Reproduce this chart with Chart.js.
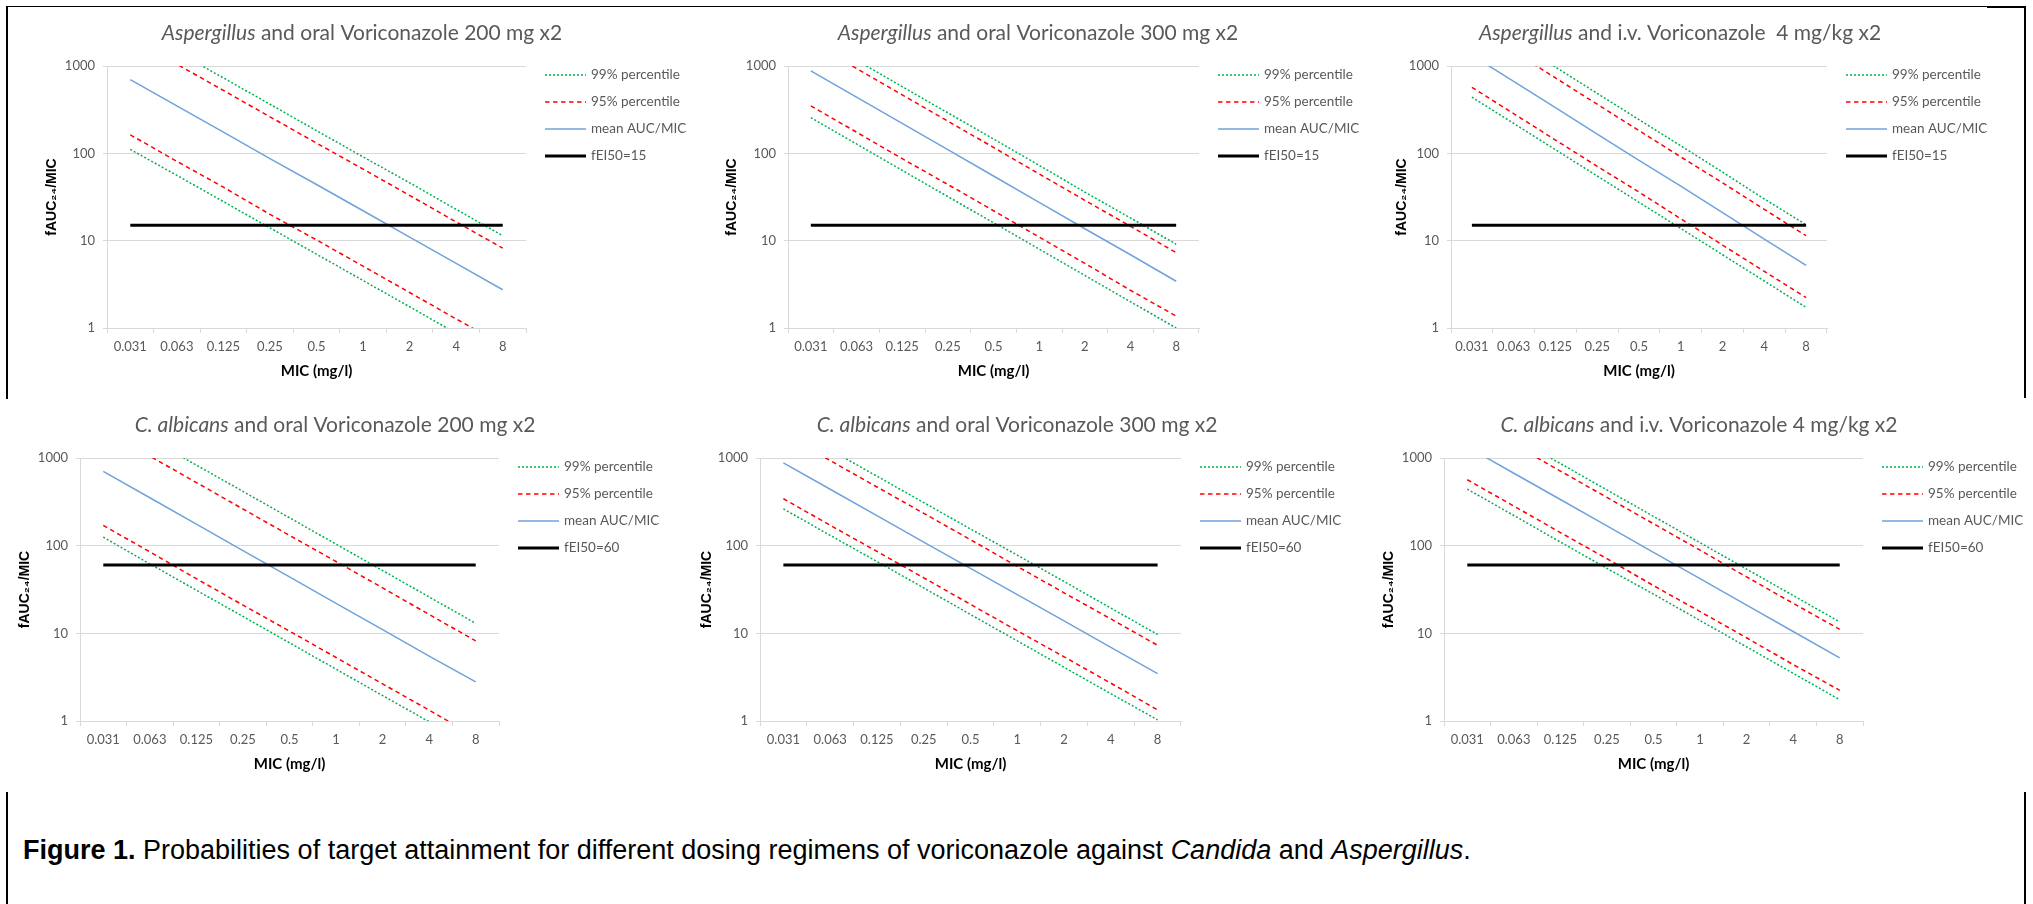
<!DOCTYPE html>
<html lang="en">
<head>
<meta charset="UTF-8">
<title>Voriconazole target attainment</title>
<style>
  body {
    margin: 0;
    width: 2033px;
    height: 904px;
    position: relative;
    overflow: hidden;
    background: #fff;
    font-family: 'Liberation Sans', Arial, sans-serif;
  }
  canvas { position: absolute; }
  .rule { position: absolute; background: #000; }
  .caption {
    position: absolute;
    left: 23px;
    top: 835px;
    font-size: 27px;
    line-height: 30px;
    color: #000;
    white-space: nowrap;
  }
</style>
</head>
<body>
<div class="rule" style="left:6px;top:6px;width:1981px;height:1px"></div>
<div class="rule" style="left:1987px;top:6px;width:39px;height:2px"></div>
<div class="rule" style="left:6px;top:6px;width:2px;height:393px"></div>
<div class="rule" style="left:2024px;top:6px;width:2px;height:392px"></div>
<div class="rule" style="left:6px;top:792px;width:2px;height:112px"></div>
<div class="rule" style="left:2024px;top:792px;width:2px;height:112px"></div>

<canvas id="c0"></canvas>
<canvas id="c1"></canvas>
<canvas id="c2"></canvas>
<canvas id="c3"></canvas>
<canvas id="c4"></canvas>
<canvas id="c5"></canvas>

<div class="caption"><b>Figure 1.</b> Probabilities of target attainment for different dosing regimens of voriconazole against <i>Candida</i> and <i>Aspergillus</i>.</div>

<script src="https://cdn.jsdelivr.net/npm/chart.js"></script>
<script>
// x categories and y ticks
const micLabels = ['0.031', '0.063', '0.125', '0.25', '0.5', '1', '2', '4', '8'];
const yTickValues = [1, 10, 100, 1000];

// Aspergillus, oral 200 mg x2
const aspOral200Low99 = [111, 56, 28, 14, 7, 3.5, 1.75, 0.87, 0.44];
const aspOral200Low95 = [163, 81, 41, 20, 10.2, 5.1, 2.55, 1.27, 0.64];
const aspOral200Mean = [700, 350, 175, 87, 44, 22, 11, 5.5, 2.74];
const aspOral200High95 = [2100, 1050, 525, 262, 131, 66, 33, 16.4, 8.2];
const aspOral200High99 = [2920, 1460, 730, 365, 182, 91, 46, 22.8, 11.4];

// Aspergillus, oral 300 mg x2
const aspOral300Low99 = [256, 128, 64, 32, 16, 8, 4, 2, 1];
const aspOral300Low95 = [350, 175, 87, 44, 22, 11, 5.5, 2.7, 1.37];
const aspOral300Mean = [880, 440, 220, 110, 55, 27.5, 13.7, 6.9, 3.43];
const aspOral300High95 = [1870, 935, 467, 234, 117, 58, 29, 14.6, 7.3];
const aspOral300High99 = [2330, 1165, 582, 291, 146, 73, 36, 18.2, 9.1];

// Aspergillus, i.v. 4 mg/kg x2
const aspIvLow99 = [440, 220, 110, 55, 27.5, 13.8, 6.9, 3.45, 1.72];
const aspIvLow95 = [570, 285, 142, 71, 36, 17.8, 8.9, 4.45, 2.23];
const aspIvMean = [1330, 665, 333, 166, 83, 42, 21, 10.4, 5.2];
const aspIvHigh95 = [2920, 1460, 730, 365, 182, 91, 46, 22.8, 11.4];
const aspIvHigh99 = [3890, 1945, 973, 486, 243, 122, 61, 30, 15.2];

// C. albicans, oral 200 mg x2
const albOral200Low99 = [125, 62, 31, 15.6, 7.8, 3.9, 1.95, 0.98, 0.49];
const albOral200Low95 = [170, 85, 42, 21, 10.6, 5.3, 2.65, 1.33, 0.66];
const albOral200Mean = [705, 352, 176, 88, 44, 22, 11, 5.5, 2.79];
const albOral200High95 = [2100, 1050, 525, 262, 131, 66, 33, 16.4, 8.2];
const albOral200High99 = [3330, 1660, 830, 416, 208, 104, 52, 26, 13];

// C. albicans, oral 300 mg x2
const albOral300Low99 = [263, 131, 66, 33, 16.4, 8.2, 4.1, 2.05, 1.03];
const albOral300Low95 = [343, 171, 86, 43, 21.4, 10.7, 5.4, 2.7, 1.34];
const albOral300Mean = [880, 440, 220, 110, 55, 27.7, 13.9, 6.9, 3.47];
const albOral300High95 = [1870, 935, 467, 234, 117, 58, 29, 14.6, 7.3];
const albOral300High99 = [2480, 1240, 620, 310, 155, 78, 39, 19.4, 9.7];

// C. albicans, i.v. 4 mg/kg x2
const albIvLow99 = [442, 221, 110, 55, 28, 14, 7, 3.5, 1.75];
const albIvLow95 = [565, 283, 141, 71, 35, 17.7, 8.9, 4.4, 2.24];
const albIvMean = [1340, 670, 336, 168, 84, 42, 21, 10.5, 5.25];
const albIvHigh95 = [2840, 1420, 710, 355, 178, 89, 44, 22, 11.1];
const albIvHigh99 = [3460, 1730, 865, 432, 216, 108, 54, 27, 13.5];

// fEI50 targets
const aspTarget = [15, 15, 15, 15, 15, 15, 15, 15, 15];
const albTarget = [60, 60, 60, 60, 60, 60, 60, 60, 60];

const seriesLabels = ['99% percentile', '95% percentile', 'mean AUC/MIC', '95% percentile', '99% percentile'];
const targetLabels = ['fEI50=15', 'fEI50=15', 'fEI50=15', 'fEI50=60', 'fEI50=60', 'fEI50=60'];

const panelTitles = [
    ['Aspergillus', ' and oral Voriconazole 200 mg x2'],
    ['Aspergillus', ' and oral Voriconazole 300 mg x2'],
    ['Aspergillus', ' and i.v. Voriconazole  4 mg/kg x2'],
    ['C. albicans', ' and oral Voriconazole 200 mg x2'],
    ['C. albicans', ' and oral Voriconazole 300 mg x2'],
    ['C. albicans', ' and i.v. Voriconazole 4 mg/kg x2']
];

const panelSeries = [
    [aspOral200Low99, aspOral200Low95, aspOral200Mean, aspOral200High95, aspOral200High99, aspTarget],
    [aspOral300Low99, aspOral300Low95, aspOral300Mean, aspOral300High95, aspOral300High99, aspTarget],
    [aspIvLow99, aspIvLow95, aspIvMean, aspIvHigh95, aspIvHigh99, aspTarget],
    [albOral200Low99, albOral200Low95, albOral200Mean, albOral200High95, albOral200High99, albTarget],
    [albOral300Low99, albOral300Low95, albOral300Mean, albOral300High95, albOral300High99, albTarget],
    [albIvLow99, albIvLow95, albIvMean, albIvHigh95, albIvHigh99, albTarget]
];

// page layout (pixels)
const colLeft = [0, 690, 1375];
const colWidth = [690, 685, 658];
const rowTop = [8, 398];
const rowHeight = [385, 390];
const plotBoxes = [
    {l: 107, r: 526, t: 66, b: 328, yt: 52, tx: 362, ty: 33},
    {l: 788, r: 1199, t: 66, b: 328, yt: 732, tx: 1038, ty: 33},
    {l: 1451, r: 1827, t: 66, b: 328, yt: 1402, tx: 1680, ty: 33},
    {l: 80, r: 499, t: 458, b: 721, yt: 25, tx: 335, ty: 425},
    {l: 760, r: 1181, t: 458, b: 721, yt: 707, tx: 1017, ty: 425},
    {l: 1444, r: 1863, t: 458, b: 721, yt: 1389, tx: 1699, ty: 425}
];
const yAxisWidth = 65;
const xAxisHeight = 57;

const lineStyles = [
    {borderColor: '#00b050', borderWidth: 1.5, borderDash: [2, 2]},
    {borderColor: '#ff0000', borderWidth: 1.5, borderDash: [4.5, 3.5]},
    {borderColor: '#6fa3dc', borderWidth: 1.5, borderDash: []},
    {borderColor: '#ff0000', borderWidth: 1.5, borderDash: [4.5, 3.5]},
    {borderColor: '#00b050', borderWidth: 1.5, borderDash: [2, 2]},
    {borderColor: '#000000', borderWidth: 3, borderDash: []}
];

Chart.defaults.font.family = 'Lato';
Chart.defaults.color = '#595959';

// title with italic organism name, and a line legend at the right of the plot
const panelDecor = {
    id: 'panelDecor',
    afterDraw(chart, args, opts) {
        const ctx = chart.ctx;
        const area = chart.chartArea;
        ctx.save();
        ctx.textBaseline = 'middle';
        ctx.textAlign = 'left';
        ctx.fillStyle = '#595959';
        ctx.font = 'italic 21px Lato';
        const w1 = ctx.measureText(opts.title[0]).width;
        ctx.font = '21px Lato';
        const w2 = ctx.measureText(opts.title[1]).width;
        const x = opts.titleX - (w1 + w2) / 2;
        ctx.font = 'italic 21px Lato';
        ctx.fillText(opts.title[0], x, opts.titleY);
        ctx.font = '21px Lato';
        ctx.fillText(opts.title[1], x + w1, opts.titleY);

        const items = [];
        chart.data.datasets.forEach(ds => {
            if (!items.find(it => it.label === ds.label)) items.push(ds);
        });
        const lx = area.right + 19;
        items.forEach((ds, i) => {
            const y = area.top + 9 + i * 27;
            ctx.beginPath();
            ctx.setLineDash(ds.borderDash);
            ctx.strokeStyle = ds.borderColor;
            ctx.lineWidth = ds.borderWidth;
            ctx.moveTo(lx, y);
            ctx.lineTo(lx + 41, y);
            ctx.stroke();
            ctx.setLineDash([]);
            ctx.font = '13.5px Lato';
            ctx.fillStyle = '#595959';
            ctx.fillText(ds.label, lx + 46, y);
        });
        ctx.restore();
    }
};

panelSeries.forEach((series, p) => {
    const col = p % 3, row = Math.floor(p / 3);
    const cl = colLeft[col], ct = rowTop[row], cw = colWidth[col], ch = rowHeight[row];
    const box = plotBoxes[p];
    const canvas = document.getElementById('c' + p);
    canvas.width = cw;
    canvas.height = ch;
    canvas.style.left = cl + 'px';
    canvas.style.top = ct + 'px';

    const datasets = series.map((data, i) => Object.assign({
        label: i < 5 ? seriesLabels[i] : targetLabels[p],
        data: data,
        fill: false,
        tension: 0,
        pointRadius: 0,
        order: i === 5 ? 0 : 1
    }, lineStyles[i]));

    new Chart(canvas.getContext('2d'), {
        type: 'line',
        data: { labels: micLabels, datasets: datasets },
        options: {
            responsive: false,
            animation: false,
            events: [],
            layout: {
                padding: {
                    left: box.l - yAxisWidth - cl,
                    right: cl + cw - box.r,
                    top: box.t - ct,
                    bottom: ct + ch - box.b - xAxisHeight
                }
            },
            plugins: {
                legend: { display: false },
                tooltip: { enabled: false },
                panelDecor: { title: panelTitles[p], titleX: box.tx - cl, titleY: box.ty - ct }
            },
            scales: {
                x: {
                    type: 'category',
                    offset: true,
                    afterFit: s => { s.height = xAxisHeight; },
                    grid: { offset: true, drawOnChartArea: false, drawTicks: true, tickLength: 5, color: '#d9d9d9' },
                    border: { color: '#d9d9d9' },
                    ticks: { autoSkip: false, maxRotation: 0, padding: 6, color: '#595959', font: { size: 13 } },
                    title: {
                        display: true,
                        text: 'MIC (mg/l)',
                        color: '#000',
                        font: { size: 15, weight: 'bold' },
                        padding: { top: 0, bottom: 5 }
                    }
                },
                y: {
                    type: 'logarithmic',
                    min: 1,
                    max: 1000,
                    afterFit: s => { s.width = yAxisWidth; },
                    afterBuildTicks: s => { s.ticks = yTickValues.map(v => ({ value: v })); },
                    grid: { color: '#d9d9d9', drawTicks: true, tickLength: 4 },
                    border: { color: '#d9d9d9' },
                    ticks: { padding: 8, color: '#595959', font: { size: 13 }, callback: v => String(v) },
                    title: {
                        display: true,
                        text: 'fAUC\u2082\u2084/MIC',
                        color: '#000',
                        font: { family: 'Liberation Sans', size: 14, weight: 'bold' },
                        padding: { top: Math.max(0, box.yt - (box.l - yAxisWidth) - 8.4), bottom: 0 }
                    }
                }
            }
        },
        plugins: [panelDecor]
    });
});
</script>
</body>
</html>
